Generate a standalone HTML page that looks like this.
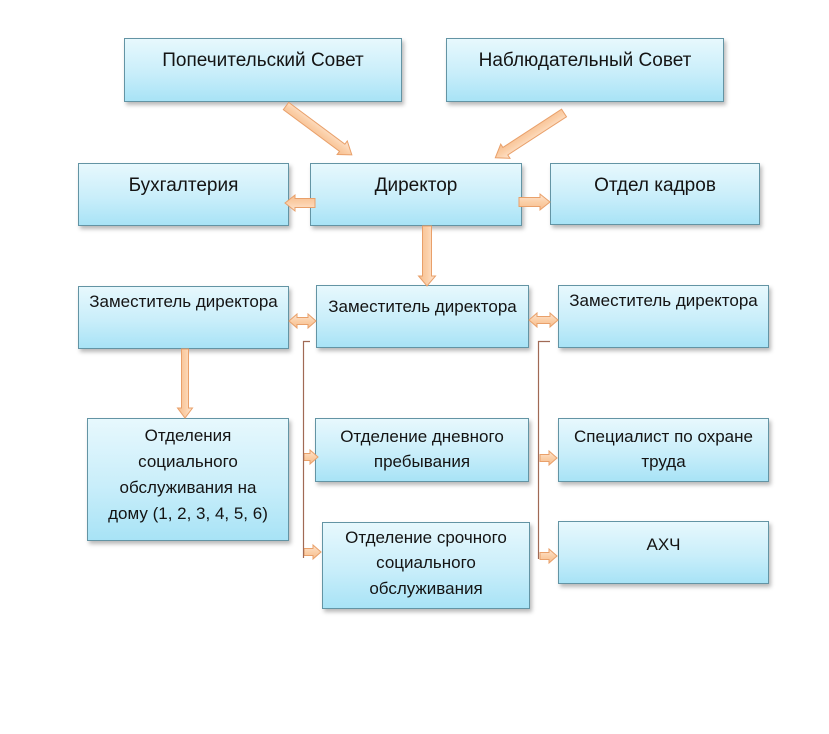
<!DOCTYPE html>
<html>
<head>
<meta charset="utf-8">
<style>
  html, body { margin:0; padding:0; background:#ffffff; }
  body { width:829px; height:734px; position:relative; overflow:hidden;
         font-family:"Liberation Sans", "Noto Sans CJK SC", sans-serif; color:#141414; }
  .box { position:absolute; box-sizing:border-box; border:1px solid #6394a4;
         background:linear-gradient(to bottom, #e7f8fd 0%, #c9eefa 55%, #a8e3f6 100%);
         box-shadow:2px 3px 4px rgba(0,0,0,0.28); text-align:center; }
  .big { font-size:19px; line-height:24px; padding-top:10px; }
  .mid { font-size:17px; line-height:24px; }
  .sm  { font-size:17px; line-height:25.5px; }
  svg { position:absolute; left:0; top:0; }
</style>
</head>
<body>

<div class="box big" style="left:124px;top:38px;width:278px;height:64px;">Попечительский Совет</div>
<div class="box big" style="left:446px;top:38px;width:278px;height:64px;">Наблюдательный Совет</div>

<div class="box big" style="left:78px;top:163px;width:211px;height:63px;">Бухгалтерия</div>
<div class="box big" style="left:310px;top:163px;width:212px;height:63px;">Директор</div>
<div class="box big" style="left:550px;top:163px;width:210px;height:62px;">Отдел кадров</div>

<div class="box mid" style="left:78px;top:286px;width:211px;height:63px;padding-top:3px;">Заместитель директора</div>
<div class="box mid" style="left:316px;top:285px;width:213px;height:63px;padding-top:9px;">Заместитель директора</div>
<div class="box mid" style="left:558px;top:285px;width:211px;height:63px;padding-top:3px;">Заместитель директора</div>

<div class="box sm" style="left:87px;top:418px;width:202px;height:123px;padding-top:4px;line-height:26px;">Отделения<br>социального<br>обслуживания на<br>дому (1, 2, 3, 4, 5, 6)</div>
<div class="box sm" style="left:315px;top:418px;width:214px;height:64px;padding-top:4.5px;">Отделение дневного<br>пребывания</div>
<div class="box sm" style="left:322px;top:522px;width:208px;height:87px;padding-top:1.5px;">Отделение срочного<br>социального<br>обслуживания</div>
<div class="box sm" style="left:558px;top:418px;width:211px;height:64px;padding-top:4.5px;">Специалист по охране<br>труда</div>
<div class="box sm" style="left:558px;top:521px;width:211px;height:63px;padding-top:9.5px;">АХЧ</div>

<svg width="829" height="734" viewBox="0 0 829 734">
  <defs>
    <linearGradient id="ag" x1="0" y1="0" x2="0" y2="1">
      <stop offset="0" stop-color="#fde6d2"/>
      <stop offset="0.5" stop-color="#fbcfa8"/>
      <stop offset="1" stop-color="#f6bd8e"/>
    </linearGradient>
  </defs>
  <g fill="url(#ag)" stroke="#e9a06a" stroke-width="1" stroke-linejoin="miter">
    <!-- Попечительский -> Директор (len 82, angle 36.6) -->
    <polygon transform="translate(286,106) rotate(36.6)" points="0,-4.5 70,-4.5 70,-8.5 82,0 70,8.5 70,4.5 0,4.5"/>
    <!-- Наблюдательный -> Директор (len 82, angle 146.9) -->
    <polygon transform="translate(564,113) rotate(146.9)" points="0,-4.5 70,-4.5 70,-8.5 82,0 70,8.5 70,4.5 0,4.5"/>
    <!-- Директор -> Бухгалтерия -->
    <polygon transform="translate(315,203) rotate(180)" points="0,-4.5 20,-4.5 20,-8 30,0 20,8 20,4.5 0,4.5"/>
    <!-- Директор -> Отдел кадров -->
    <polygon transform="translate(519,202)" points="0,-4.5 21,-4.5 21,-8 31,0 21,8 21,4.5 0,4.5"/>
    <!-- Директор down -->
    <polygon transform="translate(427,226) rotate(90)" points="0,-4.5 50,-4.5 50,-8.5 60,0 50,8.5 50,4.5 0,4.5"/>
    <!-- Left zam down -->
    <polygon transform="translate(185,349) rotate(90)" points="0,-3.5 59,-3.5 59,-7.5 69,0 59,7.5 59,3.5 0,3.5"/>
    <!-- Double arrows -->
    <polygon transform="translate(289,321)" points="0,0 8,-7 8,-3.5 19,-3.5 19,-7 27,0 19,7 19,3.5 8,3.5 8,7"/>
    <polygon transform="translate(529,320)" points="0,0 8,-7 8,-3.5 21,-3.5 21,-7 29,0 21,7 21,3.5 8,3.5 8,7"/>
    <!-- small arrows left column -->
    <polygon transform="translate(304,457)" points="0,-3.5 6,-3.5 6,-7 14,0 6,7 6,3.5 0,3.5"/>
    <polygon transform="translate(304,552)" points="0,-3.5 9,-3.5 9,-7 17,0 9,7 9,3.5 0,3.5"/>
    <!-- small arrows right column -->
    <polygon transform="translate(540,458)" points="0,-3.5 9,-3.5 9,-7 17,0 9,7 9,3.5 0,3.5"/>
    <polygon transform="translate(540,556)" points="0,-3.5 9,-3.5 9,-7 17,0 9,7 9,3.5 0,3.5"/>
  </g>
  <!-- brown connector lines -->
  <g fill="none" stroke="#a06a55" stroke-width="1.2">
    <path d="M310,341.5 H303.5 V558"/>
    <path d="M550,341.5 H538.5 V559"/>
  </g>
</svg>

</body>
</html>
